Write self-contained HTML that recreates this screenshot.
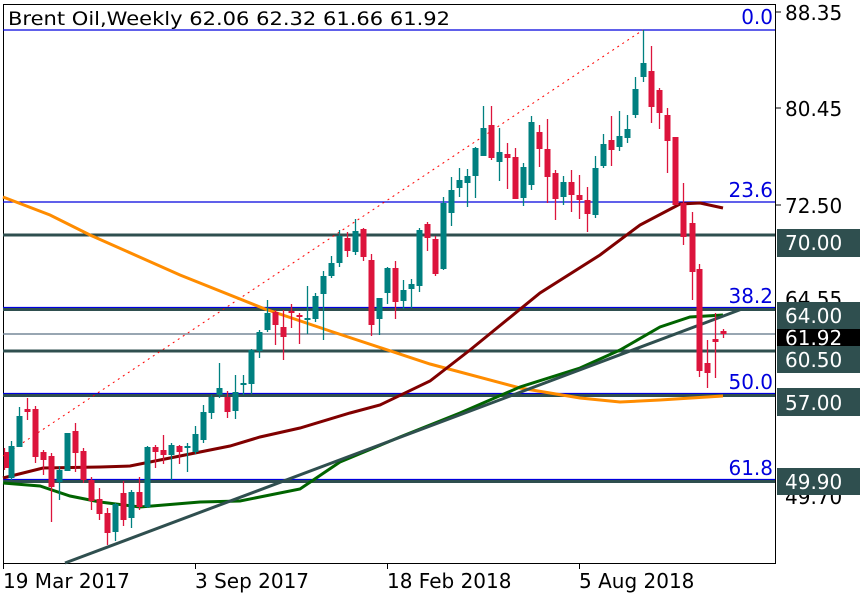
<!DOCTYPE html>
<html><head><meta charset="utf-8"><style>
html,body{margin:0;padding:0;background:#fff;}
svg{display:block;font-family:"DejaVu Sans","Liberation Sans",sans-serif;}
</style></head><body>
<svg width="860" height="600" viewBox="0 0 860 600" xmlns="http://www.w3.org/2000/svg">
<rect x="0" y="0" width="860" height="600" fill="#fff"/>
<line x1="3.5" y1="4" x2="3.5" y2="564" stroke="#000"/>
<line x1="775.5" y1="4" x2="775.5" y2="564" stroke="#000"/>
<line x1="3" y1="563.5" x2="776" y2="563.5" stroke="#000"/>
<line x1="3" y1="4.5" x2="776" y2="4.5" stroke="#000"/>
<g stroke="#0000dd" stroke-width="1.2">
<line x1="3" y1="30" x2="775" y2="30"/>
<line x1="3" y1="202" x2="775" y2="202"/>
<line x1="3" y1="307.5" x2="775" y2="307.5"/>
<line x1="3" y1="393.5" x2="775" y2="393.5"/>
<line x1="3" y1="479.5" x2="775" y2="479.5"/>
</g>
<g stroke="#2f4f4f" stroke-width="3">
<line x1="3" y1="235" x2="775" y2="235"/>
<line x1="3" y1="309.5" x2="775" y2="309.5"/>
<line x1="3" y1="351" x2="775" y2="351"/>
<line x1="3" y1="395.5" x2="775" y2="395.5"/>
<line x1="3" y1="481.5" x2="775" y2="481.5"/>
</g>
<line x1="3" y1="334" x2="775" y2="334" stroke="#778899" stroke-width="1.5"/>
<line x1="3" y1="456" x2="643" y2="30" stroke="#ff0000" stroke-width="1" stroke-dasharray="2,4"/>
<polyline fill="none" stroke="#ff8c00" stroke-width="3" points="3,197 50,215 90,235 180,275 265,309 330,331 430,364 520,388 580,398 620,402 660,400 723,396"/>
<polyline fill="none" stroke="#800000" stroke-width="3" points="3,478 43,468 100,467 130,466 180,456 230,446 260,437 300,428 350,413 380,405 430,381 470,350 540,293 600,255 640,225 680,204 700,203 723,208"/>
<polyline fill="none" stroke="#006400" stroke-width="3" points="3,483 40,486 70,496 100,502 140,507 200,502 240,501 300,489 340,462 400,437 460,413 520,387 580,368 620,350 660,327 690,317 723,315"/>
<line x1="65" y1="563" x2="742" y2="309" stroke="#2f4f4f" stroke-width="3"/>
<!-- teal candles -->
<path fill="none" stroke="#008080" stroke-width="1.3" d="M11.5 441V480M19.5 407V447M59.5 466V500M67.5 433V471M115.5 503V541M131.5 490V528M147.5 446V508M171.5 443V480M187.5 443V472M195.5 426V454M203.5 405V443M211.5 395V419M219.5 363V398M235.5 375V419M243.5 375V395M251.5 349V394M259.5 330V358M267.5 300V332M307.5 286V334M315.5 293V322M323.5 271V340M331.5 256V278M339.5 230V267M355.5 219V255M379.5 298V335M387.5 267V304M403.5 280V309M411.5 279V308M419.5 228V292M443.5 197V270M451.5 177V226M459.5 168V197M467.5 169V207M475.5 147V198M483.5 106V156M499.5 128V181M523.5 163V206M531.5 116V190M563.5 176V205M595.5 156V218M603.5 134V168M619.5 111V151M627.5 115V143M635.5 77V118M643.5 30V82"/>
<path fill="#008080" d="M8.5 446h6v32h-6zM16.5 416h6v31h-6zM56.5 470h6v12h-6zM64.5 433h6v38h-6zM112.5 504h6v28h-6zM128.5 492h6v26h-6zM144.5 447h6v60h-6zM168.5 445h6v10h-6zM184.5 446h6v2h-6zM192.5 434h6v18h-6zM200.5 412h6v28h-6zM208.5 397h6v16h-6zM216.5 388h6v7h-6zM232.5 392h6v19h-6zM240.5 383h6v2h-6zM248.5 350h6v34h-6zM256.5 332h6v19h-6zM264.5 313h6v17h-6zM304.5 318h6v2h-6zM312.5 296h6v23h-6zM320.5 276h6v18h-6zM328.5 263h6v13h-6zM336.5 236h6v27h-6zM352.5 231h6v21h-6zM376.5 298h6v21h-6zM384.5 268h6v25h-6zM400.5 290h6v11h-6zM408.5 284h6v5h-6zM416.5 230h6v56h-6zM440.5 203h6v66h-6zM448.5 190h6v23h-6zM456.5 180h6v8h-6zM464.5 176h6v7h-6zM472.5 148h6v28h-6zM480.5 128h6v28h-6zM496.5 152h6v10h-6zM520.5 167h6v31h-6zM528.5 122h6v63h-6zM560.5 182h6v15h-6zM592.5 168h6v47h-6zM600.5 144h6v22h-6zM616.5 136h6v11h-6zM624.5 129h6v9h-6zM632.5 89h6v26h-6zM640.5 63h6v14h-6z"/>
<!-- red candles -->
<path fill="none" stroke="#dc143c" stroke-width="1.3" d="M4.5 448V470M27.5 398V420M35.5 406V463M43.5 450V475M51.5 453V522M75.5 423V472M83.5 448V483M91.5 477V510M99.5 488V520M107.5 508V545M123.5 481V526M139.5 477V510M155.5 445V468M163.5 435V464M179.5 445V464M227.5 391V418M275.5 310V345M283.5 310V360M291.5 304V328M299.5 313V344M347.5 232V257M363.5 228V261M371.5 254V336M395.5 261V319M427.5 222V251M435.5 236V276M491.5 106V160M507.5 143V189M515.5 148V199M539.5 125V167M547.5 119V203M555.5 170V220M571.5 170V212M579.5 175V219M587.5 187V232M611.5 116V166M651.5 46V123M659.5 88V129M667.5 108V173M675.5 137V205M683.5 183V245M692.5 212V300M699.5 264V377M707.5 340V388M715.5 313V378M723.5 329V338"/>
<path fill="#dc143c" d="M4 452h5v16h-5zM24.5 409h6v3h-6zM32.5 409h6v48h-6zM40.5 452h6v8h-6zM48.5 456h6v31h-6zM72.5 431h6v22h-6zM80.5 451h6v29h-6zM88.5 480h6v21h-6zM96.5 499h6v15h-6zM104.5 513h6v20h-6zM120.5 493h6v27h-6zM136.5 492h6v15h-6zM152.5 447h6v5h-6zM160.5 450h6v5h-6zM176.5 446h6v6h-6zM224.5 397h6v15h-6zM272.5 312h6v13h-6zM280.5 327h6v10h-6zM288.5 311h6v2h-6zM296.5 315h6v2h-6zM344.5 238h6v13h-6zM360.5 229h6v28h-6zM368.5 260h6v65h-6zM392.5 268h6v34h-6zM424.5 224h6v14h-6zM432.5 239h6v35h-6zM488.5 125h6v33h-6zM504.5 154h6v4h-6zM512.5 157h6v42h-6zM536.5 132h6v17h-6zM544.5 149h6v28h-6zM552.5 173h6v26h-6zM568.5 182h6v13h-6zM576.5 195h6v5h-6zM584.5 200h6v14h-6zM608.5 140h6v10h-6zM648.5 71h6v36h-6zM656.5 90h6v23h-6zM664.5 115h6v26h-6zM672.5 137h6v68h-6zM680.5 203h6v34h-6zM689.5 223h6v49h-6zM696.5 269h6v102h-6zM704.5 363h6v10h-6zM712.5 339h6v3h-6zM720.5 331h6v3h-6z"/>
<g font-size="20" fill="#000">
<line x1="776" y1="12" x2="781" y2="12" stroke="#000"/>
<text x="785" y="20">88.35</text>
<line x1="776" y1="108" x2="781" y2="108" stroke="#000"/>
<text x="785" y="116">80.45</text>
<line x1="776" y1="205" x2="781" y2="205" stroke="#000"/>
<text x="785" y="213">72.50</text>
<text x="785" y="306">64.55</text>
<text x="785" y="504">49.70</text>
</g>
<g font-size="20" fill="#fff">
<rect x="777" y="229" width="83" height="28" fill="#2f4f4f"/><text x="785" y="250">70.00</text>
<rect x="777" y="302" width="83" height="28" fill="#2f4f4f"/><text x="785" y="323">64.00</text>
<rect x="777" y="329" width="83" height="18" fill="#000"/><text x="785" y="345">61.92</text>
<rect x="777" y="346" width="83" height="27" fill="#2f4f4f"/><text x="785" y="367">60.50</text>
<rect x="777" y="388" width="83" height="28" fill="#2f4f4f"/><text x="785" y="410">57.00</text>
<rect x="777" y="468" width="83" height="27" fill="#2f4f4f"/><text x="785" y="489">49.90</text>
</g>
<g font-size="20" fill="#0000dd" text-anchor="end">
<text x="773" y="24">0.0</text>
<text x="773" y="197">23.6</text>
<text x="773" y="303">38.2</text>
<text x="773" y="389">50.0</text>
<text x="773" y="475">61.8</text>
</g>
<g stroke="#000"><line x1="3.5" y1="564" x2="3.5" y2="569"/><line x1="195.5" y1="564" x2="195.5" y2="569"/><line x1="387.5" y1="564" x2="387.5" y2="569"/><line x1="579.5" y1="564" x2="579.5" y2="569"/></g>
<g font-size="20" fill="#000">
<text x="3" y="588">19 Mar 2017</text>
<text x="195" y="588">3 Sep 2017</text>
<text x="387" y="588">18 Feb 2018</text>
<text x="579" y="588">5 Aug 2018</text>
</g>
<text x="8" y="25" font-size="19" fill="#000" textLength="442" lengthAdjust="spacingAndGlyphs">Brent  Oil,Weekly  62.06 62.32 61.66 61.92</text>
</svg>
</body></html>
